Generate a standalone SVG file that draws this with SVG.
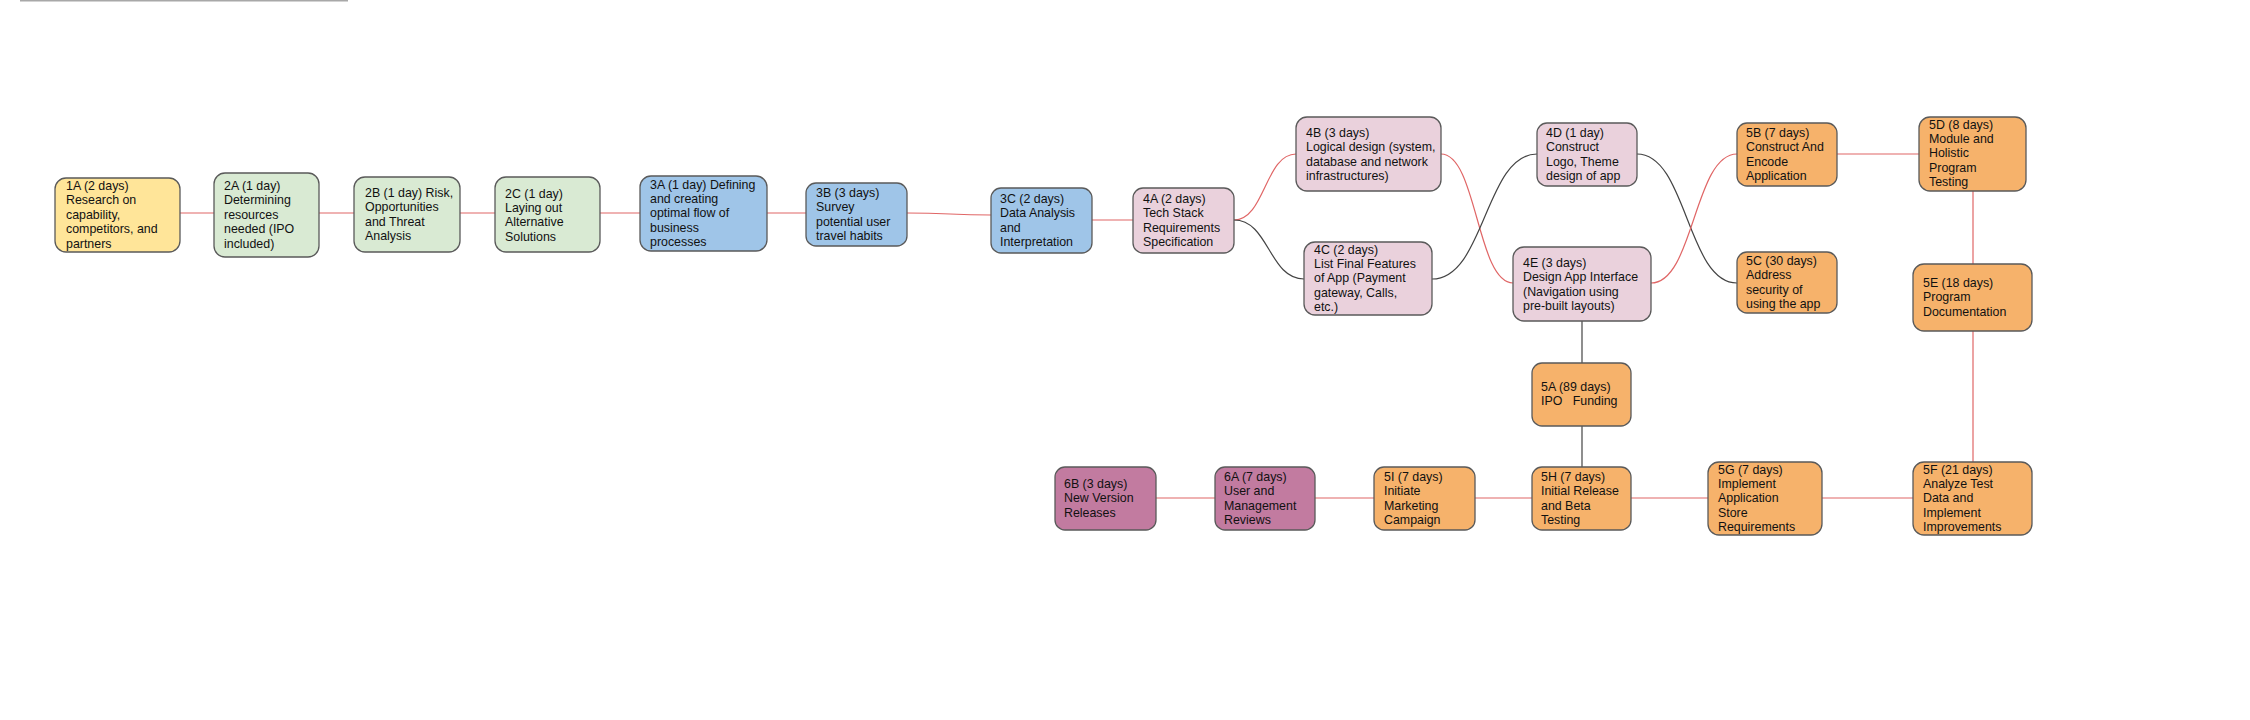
<svg xmlns="http://www.w3.org/2000/svg" width="2250" height="720" viewBox="0 0 2250 720">
<style>
text{font-family:"Liberation Sans",Arial,sans-serif;font-size:12.4px;fill:#111}
.n{stroke:#5a5a5a;stroke-width:1.3}
.y{fill:#FFE599}.g{fill:#D9EAD3}.b{fill:#9FC5E8}.p{fill:#EAD1DC}.o{fill:#F6B26B}.m{fill:#C27BA0}
.r{fill:none;stroke:#E06666;stroke-width:1.2}
.k{fill:none;stroke:#444;stroke-width:1.2}
</style>
<rect x="20" y="0" width="328" height="1.5" fill="#a8a8a8"/>
<g id="connectors">
<path class="r" d="M180,213 L214,213"/>
<path class="r" d="M319,213 L354,213"/>
<path class="r" d="M460,213 L495,213"/>
<path class="r" d="M600,213 L640,213"/>
<path class="r" d="M767,213 L806,213"/>
<path class="r" d="M907,213 C950,213 950,215 991,215"/>
<path class="r" d="M1092,220 L1133,220"/>
<path class="r" d="M1234,220 C1265,220 1265,154 1296,154"/>
<path class="k" d="M1234,220 C1269,220 1269,279 1304,279"/>
<path class="r" d="M1441,154 C1477,154 1477,283 1513,283"/>
<path class="k" d="M1432,279 C1485,279 1485,154 1537,154"/>
<path class="k" d="M1637,154 C1687,154 1687,283 1737,283"/>
<path class="r" d="M1651,283 C1694,283 1694,154 1737,154"/>
<path class="r" d="M1837,154 L1919,154"/>
<path class="r" d="M1973,191 L1973,264"/>
<path class="r" d="M1973,331 L1973,462"/>
<path class="r" d="M1822,498 L1913,498"/>
<path class="r" d="M1631,498 L1708,498"/>
<path class="r" d="M1475,498 L1532,498"/>
<path class="r" d="M1315,498 L1374,498"/>
<path class="r" d="M1156,498 L1215,498"/>
<path class="k" d="M1582,321 L1582,363"/>
<path class="k" d="M1582,426 L1582,467"/>
</g>
<g id="n1A"><rect class="n y" x="55" y="178" width="125" height="74" rx="11"/><text x="66"><tspan x="66" y="190">1A (2 days)</tspan><tspan x="66" y="204.4">Research on</tspan><tspan x="66" y="218.8">capability,</tspan><tspan x="66" y="233.2">competitors, and</tspan><tspan x="66" y="247.6">partners</tspan></text></g>
<g id="n2A"><rect class="n g" x="214" y="173" width="105" height="84" rx="11"/><text><tspan x="224" y="190">2A (1 day)</tspan><tspan x="224" y="204.4">Determining</tspan><tspan x="224" y="218.8">resources</tspan><tspan x="224" y="233.2">needed (IPO</tspan><tspan x="224" y="247.6">included)</tspan></text></g>
<g id="n2B"><rect class="n g" x="354" y="177" width="106" height="75" rx="11"/><text><tspan x="365" y="197">2B (1 day) Risk,</tspan><tspan x="365" y="211.4">Opportunities</tspan><tspan x="365" y="225.8">and Threat</tspan><tspan x="365" y="240.2">Analysis</tspan></text></g>
<g id="n2C"><rect class="n g" x="495" y="177" width="105" height="75" rx="11"/><text><tspan x="505" y="197.5">2C (1 day)</tspan><tspan x="505" y="211.9">Laying out</tspan><tspan x="505" y="226.3">Alternative</tspan><tspan x="505" y="240.7">Solutions</tspan></text></g>
<g id="n3A"><rect class="n b" x="640" y="176" width="127" height="75" rx="11"/><text><tspan x="650" y="188.5">3A (1 day) Defining</tspan><tspan x="650" y="202.9">and creating</tspan><tspan x="650" y="217.3">optimal flow of</tspan><tspan x="650" y="231.7">business</tspan><tspan x="650" y="246.1">processes</tspan></text></g>
<g id="n3B"><rect class="n b" x="806" y="183" width="101" height="63" rx="10"/><text><tspan x="816" y="197">3B (3 days)</tspan><tspan x="816" y="211.4">Survey</tspan><tspan x="816" y="225.8">potential user</tspan><tspan x="816" y="240.2">travel habits</tspan></text></g>
<g id="n3C"><rect class="n b" x="991" y="188" width="101" height="65" rx="10"/><text><tspan x="1000" y="203">3C (2 days)</tspan><tspan x="1000" y="217.4">Data Analysis</tspan><tspan x="1000" y="231.8">and</tspan><tspan x="1000" y="246.2">Interpretation</tspan></text></g>
<g id="n4A"><rect class="n p" x="1133" y="188" width="101" height="65" rx="10"/><text><tspan x="1143" y="203">4A (2 days)</tspan><tspan x="1143" y="217.4">Tech Stack</tspan><tspan x="1143" y="231.8">Requirements</tspan><tspan x="1143" y="246.2">Specification</tspan></text></g>
<g id="n4B"><rect class="n p" x="1296" y="117" width="145" height="74" rx="11"/><text><tspan x="1306" y="137">4B (3 days)</tspan><tspan x="1306" y="151.4">Logical design (system,</tspan><tspan x="1306" y="165.8">database and network</tspan><tspan x="1306" y="180.2">infrastructures)</tspan></text></g>
<g id="n4C"><rect class="n p" x="1304" y="242" width="128" height="73" rx="11"/><text><tspan x="1314" y="253.5">4C (2 days)</tspan><tspan x="1314" y="267.9">List Final Features</tspan><tspan x="1314" y="282.3">of App (Payment</tspan><tspan x="1314" y="296.7">gateway, Calls,</tspan><tspan x="1314" y="311.1">etc.)</tspan></text></g>
<g id="n4D"><rect class="n p" x="1537" y="123" width="100" height="63" rx="10"/><text><tspan x="1546" y="137">4D (1 day)</tspan><tspan x="1546" y="151.4">Construct</tspan><tspan x="1546" y="165.8">Logo, Theme</tspan><tspan x="1546" y="180.2">design of app</tspan></text></g>
<g id="n4E"><rect class="n p" x="1513" y="247" width="138" height="74" rx="11"/><text><tspan x="1523" y="267">4E (3 days)</tspan><tspan x="1523" y="281.4">Design App Interface</tspan><tspan x="1523" y="295.8">(Navigation using</tspan><tspan x="1523" y="310.2">pre-built layouts)</tspan></text></g>
<g id="n5B"><rect class="n o" x="1737" y="123" width="100" height="63" rx="10"/><text><tspan x="1746" y="137">5B (7 days)</tspan><tspan x="1746" y="151.4">Construct And</tspan><tspan x="1746" y="165.8">Encode</tspan><tspan x="1746" y="180.2">Application</tspan></text></g>
<g id="n5C"><rect class="n o" x="1737" y="252" width="100" height="61" rx="10"/><text><tspan x="1746" y="265">5C (30 days)</tspan><tspan x="1746" y="279.4">Address</tspan><tspan x="1746" y="293.8">security of</tspan><tspan x="1746" y="308.2">using the app</tspan></text></g>
<g id="n5D"><rect class="n o" x="1919" y="117" width="107" height="74" rx="11"/><text><tspan x="1929" y="128.5">5D (8 days)</tspan><tspan x="1929" y="142.9">Module and</tspan><tspan x="1929" y="157.3">Holistic</tspan><tspan x="1929" y="171.7">Program</tspan><tspan x="1929" y="186.1">Testing</tspan></text></g>
<g id="n5E"><rect class="n o" x="1913" y="264" width="119" height="67" rx="11"/><text><tspan x="1923" y="287">5E (18 days)</tspan><tspan x="1923" y="301.4">Program</tspan><tspan x="1923" y="315.8">Documentation</tspan></text></g>
<g id="n5A"><rect class="n o" x="1532" y="363" width="99" height="63" rx="10"/><text xml:space="preserve"><tspan x="1541" y="390.5">5A (89 days)</tspan><tspan x="1541" y="404.9">IPO   Funding</tspan></text></g>
<g id="n5H"><rect class="n o" x="1532" y="467" width="99" height="63" rx="10"/><text><tspan x="1541" y="481">5H (7 days)</tspan><tspan x="1541" y="495.4">Initial Release</tspan><tspan x="1541" y="509.8">and Beta</tspan><tspan x="1541" y="524.2">Testing</tspan></text></g>
<g id="n5I"><rect class="n o" x="1374" y="467" width="101" height="63" rx="10"/><text><tspan x="1384" y="481">5I (7 days)</tspan><tspan x="1384" y="495.4">Initiate</tspan><tspan x="1384" y="509.8">Marketing</tspan><tspan x="1384" y="524.2">Campaign</tspan></text></g>
<g id="n6A"><rect class="n m" x="1215" y="467" width="100" height="63" rx="10"/><text><tspan x="1224" y="481">6A (7 days)</tspan><tspan x="1224" y="495.4">User and</tspan><tspan x="1224" y="509.8">Management</tspan><tspan x="1224" y="524.2">Reviews</tspan></text></g>
<g id="n6B"><rect class="n m" x="1055" y="467" width="101" height="63" rx="10"/><text><tspan x="1064" y="488">6B (3 days)</tspan><tspan x="1064" y="502.4">New Version</tspan><tspan x="1064" y="516.8">Releases</tspan></text></g>
<g id="n5G"><rect class="n o" x="1708" y="462" width="114" height="73" rx="11"/><text><tspan x="1718" y="473.5">5G (7 days)</tspan><tspan x="1718" y="487.9">Implement</tspan><tspan x="1718" y="502.3">Application</tspan><tspan x="1718" y="516.7">Store</tspan><tspan x="1718" y="531.1">Requirements</tspan></text></g>
<g id="n5F"><rect class="n o" x="1913" y="462" width="119" height="73" rx="11"/><text><tspan x="1923" y="473.5">5F (21 days)</tspan><tspan x="1923" y="487.9">Analyze Test</tspan><tspan x="1923" y="502.3">Data and</tspan><tspan x="1923" y="516.7">Implement</tspan><tspan x="1923" y="531.1">Improvements</tspan></text></g>
</svg>
